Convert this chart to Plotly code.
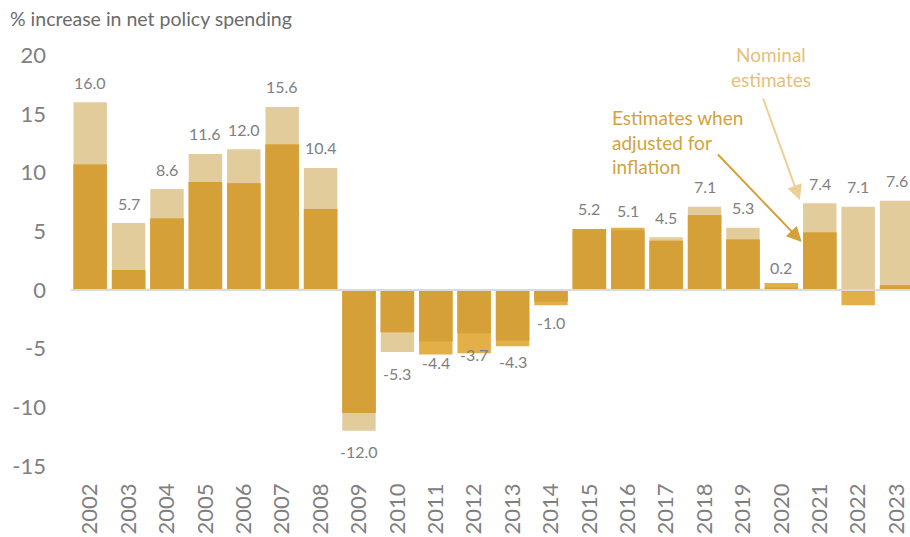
import plotly.graph_objects as go

# Year-on-year change in net policy spending (%)
years = [str(y) for y in range(2002, 2024)]
nominal = [16.0, 5.7, 8.6, 11.6, 12.0, 15.6, 10.4, -12.0, -5.3, -4.4, -3.7,
           -4.3, -1.0, 5.2, 5.1, 4.5, 7.1, 5.3, 0.2, 7.4, 7.1, 7.6]
real = [10.7, 1.7, 6.1, 9.2, 9.1, 12.4, 6.9, -10.5, -3.6, -5.5, -5.4,
        -4.8, -1.3, 5.2, 5.3, 4.2, 6.4, 4.3, 0.6, 4.9, -1.3, 0.4]
y_ticks = [-15, -10, -5, 0, 5, 10, 15, 20]

TAN = "#E2CC9C"
GOLD = "#E3AF48"
DARK = "#D4A037"
GREY = "#808080"
FONT = "Lato"

# Part of each bar shared by both measures (same sign, smaller magnitude)
overlap = []
for n, r in zip(nominal, real):
    if n * r > 0:
        overlap.append(min(abs(n), abs(r)) * (1 if n > 0 else -1))
    else:
        overlap.append(0.0)

x_idx = list(range(len(years)))

fig = go.Figure()
fig.add_trace(go.Bar(x=x_idx, y=nominal, marker_color=TAN, marker_line_width=0,
                     name="Nominal"))
fig.add_trace(go.Bar(x=x_idx, y=real, marker_color=GOLD, marker_line_width=0,
                     name="Real"))
fig.add_trace(go.Bar(x=x_idx, y=overlap, marker_color=DARK, marker_line_width=0,
                     name="Overlap"))

annotations = []
# value labels on the nominal bars
for i, v in enumerate(nominal):
    annotations.append(dict(
        x=i, y=v, xref="x", yref="y", text=f"{v:.1f}", showarrow=False,
        yshift=20 if v >= 0 else -21, font=dict(family=FONT, size=16, color=GREY),
    ))

# axis subtitle
annotations.append(dict(
    xref="paper", yref="paper", x=-0.0751, y=1.061, xanchor="left", yanchor="middle",
    text="% increase in net policy spending", showarrow=False,
    font=dict(family=FONT, size=19.5, color="#6B6B6B"),
))

# callouts
annotations.append(dict(
    x=17.72, y=19.0, xref="x", yref="y", text="Nominal<br>estimates", showarrow=False,
    align="center", font=dict(family=FONT, size=19, color="#E6C07A"),
))
annotations.append(dict(
    x=18.48, y=7.67, ax=17.51, ay=16.45, xref="x", yref="y", axref="x", ayref="y",
    text="", showarrow=True, arrowhead=2, arrowsize=1.5, arrowwidth=2,
    arrowcolor="#EDCF95",
))
annotations.append(dict(
    x=13.53, y=12.6, xref="x", yref="y", xanchor="left", text="Estimates when<br>adjusted for<br>inflation",
    showarrow=False, align="left", font=dict(family=FONT, size=19, color="#D4A23D"),
))
annotations.append(dict(
    x=18.53, y=4.09, ax=16.31, ay=11.68, xref="x", yref="y", axref="x", ayref="y",
    text="", showarrow=True, arrowhead=2, arrowsize=1.5, arrowwidth=2,
    arrowcolor="#D4A037",
))

fig.update_layout(
    width=910, height=537,
    margin=dict(l=71, r=0, t=44, b=67),
    barmode="overlay", bargap=0.13,
    plot_bgcolor="white", paper_bgcolor="white",
    showlegend=False,
    annotations=annotations,
    shapes=[dict(type="line", xref="paper", yref="y", x0=0, x1=1, y0=0, y1=0,
                 line=dict(color="#DADADA", width=2), layer="above")],
)
fig.update_xaxes(
    range=[-0.5, 21.35], tickmode="array", tickvals=x_idx, ticktext=years,
    tickangle=-90, showgrid=False, zeroline=False, showline=False,
    ticks="", ticklabelstandoff=8,
    tickfont=dict(family=FONT, size=22, color=GREY),
)
fig.update_yaxes(
    range=[-15.35, 20.97], tickmode="array", tickvals=y_ticks,
    ticktext=[str(t) for t in y_ticks], showgrid=False, zeroline=False,
    showline=False, ticks="", ticklabelstandoff=24,
    tickfont=dict(family=FONT, size=22, color=GREY),
)

fig.write_html("out.html")
